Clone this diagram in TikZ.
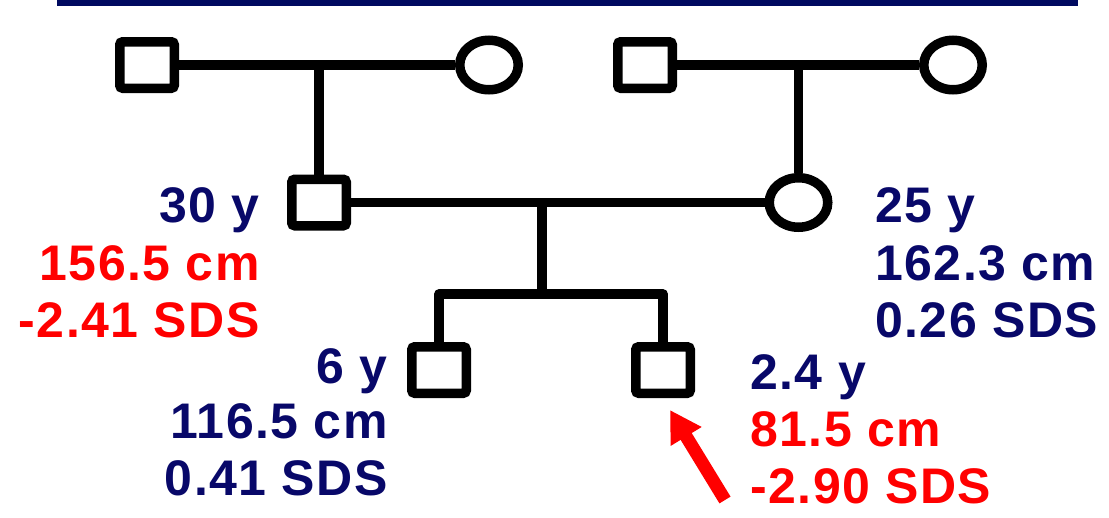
\documentclass[tikz,border=0pt]{standalone}
\usepackage{fontspec}
\setmainfont[LetterSpace=3]{Liberation Sans}
\usetikzlibrary{positioning,shapes.geometric,arrows.meta}
\definecolor{navytext}{RGB}{8,8,105}
\definecolor{barnavy}{RGB}{0,10,96}

\begin{document}
\begin{tikzpicture}[x=1pt,y=-1pt,
  male/.style={draw,line width=9.5pt,rounded corners=3pt,minimum width=54.5pt,minimum height=46.5pt,inner sep=0pt},
  female/.style={draw,ellipse,line width=9.5pt,minimum width=58.5pt,minimum height=49.5pt,inner sep=0pt},
  link/.style={line width=9.5pt,line join=round},
  lab/.style={font=\fontsize{50}{60}\selectfont\bfseries,inner sep=0pt},
  blu/.style={lab,text=navytext},
  rd/.style={lab,text=red}]
  \useasboundingbox (0,0) rectangle (1109,517);
  \fill[barnavy] (57,0) rectangle (1078,6);
  % grandparents
  \node[male]   (gfa) at (147,65) {};
  \node[female] (gma) at (489,65) {};
  \node[male]   (gfb) at (645,65) {};
  \node[female] (gmb) at (953,65) {};
  % parents and children
  \node[male]   (fa) at (319,202.5) {};
  \node[female] (mo) at (798.5,202.5) {};
  \node[male]   (ca) at (439,370) {};
  \node[male]   (cb) at (663,370) {};
  \coordinate (sib) at (542,294);
  % marriage and descent lines
  \draw[link] (gfa) -- (gma);
  \draw[link] (gfb) -- (gmb);
  \draw[link] (fa) -- (mo);
  \draw[link] (fa.north) -- (fa.north |- gfa.east);
  \draw[link] (mo.north) -- (mo.north |- gfb.east);
  \draw[link] (fa.east -| sib) -- (sib);
  \draw[link] (ca.north) |- (sib) -| (cb.north);
  % measurements
  \node[blu,anchor=base east] (faage) at (260,222) {30 y};
  \node[rd,anchor=base east]  (faht)  at (260,280) {156.5 cm};
  \node[rd,anchor=base east]  (fasds) at (260,337) {-2.41 SDS};
  \node[blu,anchor=base west] (moage) at (875,222) {25 y};
  \node[blu,anchor=base west] (moht)  at (875,280) {162.3 cm};
  \node[blu,anchor=base west] (mosds) at (875,337) {0.26 SDS};
  \node[blu,anchor=base east] (caage) at (388,383) {6 y};
  \node[blu,anchor=base east] (caht)  at (388,438) {116.5 cm};
  \node[blu,anchor=base east] (casds) at (388,495) {0.41 SDS};
  \node[blu,anchor=base west] (cbage) at (750,389) {2.4 y};
  \node[rd,anchor=base west]  (cbht)  at (750,446) {81.5 cm};
  \node[rd,anchor=base west]  (cbsds) at (750,503) {-2.90 SDS};
  % index case
  \coordinate (tail) at (725,500);
  \coordinate (tip) at (670,410);
  \draw[red,line width=13pt,-{Triangle[length=31pt,width=34pt]}] (tail) -- (tip);
\end{tikzpicture}
\end{document}
